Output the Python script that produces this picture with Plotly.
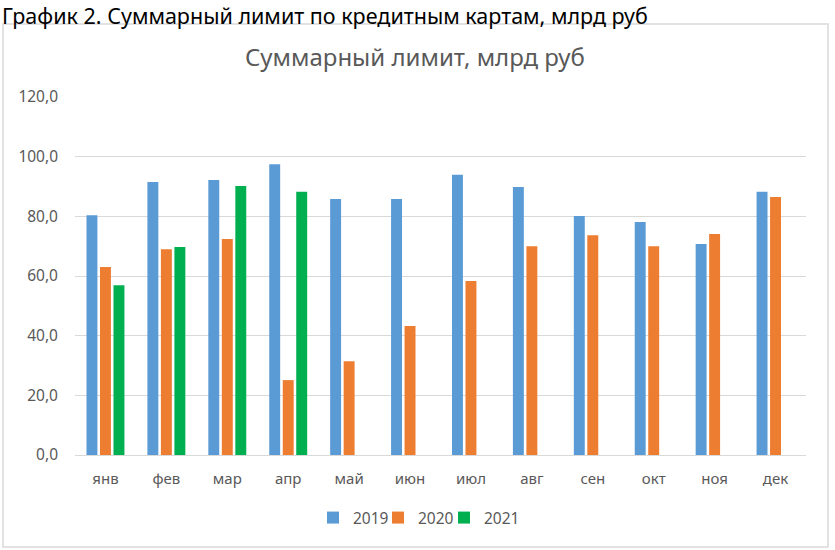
import plotly.graph_objects as go

months = ["янв", "фев", "мар", "апр", "май", "июн", "июл", "авг", "сен", "окт", "ноя", "дек"]
y2019 = [80.4, 91.5, 92.2, 97.5, 85.8, 85.8, 93.9, 89.8, 80.1, 78.1, 70.7, 88.2]
y2020 = [63.0, 69.0, 72.4, 25.1, 31.4, 43.2, 58.3, 70.0, 73.7, 70.0, 74.1, 86.5]
y2021 = [56.9, 69.7, 90.2, 88.2, None, None, None, None, None, None, None, None]
series = [("2019", y2019, "#5B9BD5"), ("2020", y2020, "#ED7D31"), ("2021", y2021, "#00B050")]

W, H = 835, 550
PL, PR, PT, PB = 75, 806, 97, 455
FONT = "Noto Sans"
GRAY = "#595959"
LEGEND_X = [313, 378, 444]

def px_x(p):
    return (p - PL) / (PR - PL)

def px_y(p):
    return (PB - p) / (PB - PT)

fig = go.Figure()
legend_names = ["legend", "legend2", "legend3"]
for (name, vals, col), lg in zip(series, legend_names):
    fig.add_trace(go.Bar(x=months, y=vals, name=name, legend=lg,
                         marker=dict(color=col, line=dict(width=0))))

legend_common = dict(orientation="h", xanchor="left", y=px_y(518), yanchor="middle",
                     font=dict(size=15.5, color=GRAY), itemwidth=30,
                     bgcolor="rgba(0,0,0,0)", borderwidth=0)

fig.update_layout(
    width=W, height=H,
    margin=dict(l=PL, r=W - PR, t=PT, b=H - PB),
    paper_bgcolor="white", plot_bgcolor="white",
    barmode="group", bargap=0.335, bargroupgap=0.19,
    separators=", ",
    font=dict(family=FONT, color=GRAY, size=14),
    showlegend=True,
    legend=dict(x=px_x(LEGEND_X[0]), **legend_common),
    legend2=dict(x=px_x(LEGEND_X[1]), **legend_common),
    legend3=dict(x=px_x(LEGEND_X[2]), **legend_common),
    xaxis=dict(showgrid=False, showline=False, ticks="", tickfont=dict(size=15, color=GRAY),
               ticklabelstandoff=13),
    yaxis=dict(range=[0, 120], dtick=20, tickformat=".1f", showgrid=True, gridcolor="#D9D9D9",
               gridwidth=1.3, zeroline=True, zerolinecolor="#D9D9D9", zerolinewidth=1.3,
               showline=False, ticks="", tickfont=dict(size=15.5, color=GRAY),
               ticklabelstandoff=16),
)

fig.add_shape(type="rect", xref="paper", yref="paper",
              x0=px_x(3), x1=px_x(828), y0=px_y(547), y1=px_y(24),
              line=dict(color="#D9D9D9", width=1.5), fillcolor="rgba(0,0,0,0)", layer="below")

fig.add_annotation(text="График 2. Суммарный лимит по кредитным картам, млрд руб",
                   xref="paper", yref="paper", x=px_x(1), y=px_y(0),
                   xanchor="left", yanchor="top", showarrow=False, borderpad=0,
                   font=dict(family=FONT, size=21.5, color="black"))
fig.add_annotation(text="Суммарный лимит, млрд руб",
                   xref="paper", yref="paper", x=px_x(415), y=px_y(57),
                   xanchor="center", yanchor="middle", showarrow=False,
                   font=dict(family=FONT, size=24, color=GRAY))

fig.write_html("out.html", config={"displayModeBar": False},
               post_script="document.body.style.margin='0px';")
